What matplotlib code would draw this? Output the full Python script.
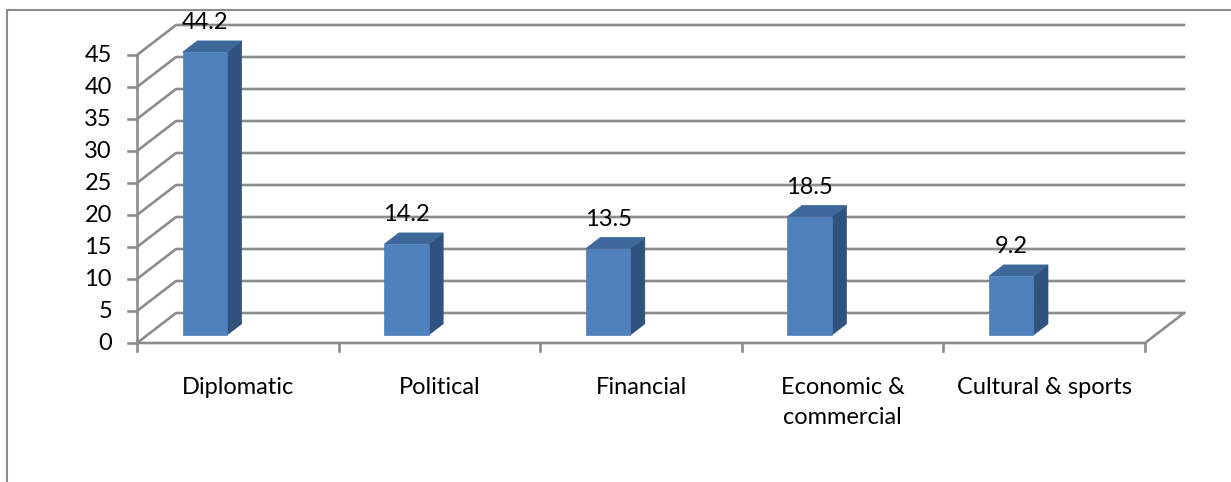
import matplotlib
matplotlib.use('Agg')
import matplotlib.pyplot as plt
from matplotlib.patches import Polygon
from matplotlib.lines import Line2D

categories = ['Diplomatic', 'Political', 'Financial', 'Economic &\ncommercial', 'Cultural & sports']
values = [44.2, 14.2, 13.5, 18.5, 9.2]
value_labels = ['44.2', '14.2', '13.5', '18.5', '9.2']
yticks = [0, 5, 10, 15, 20, 25, 30, 35, 40, 45]

plt.rcParams['font.family'] = ['Lato', 'DejaVu Sans']

W, H = 1231, 482
fig = plt.figure(figsize=(W / 100, H / 100), dpi=100)
fig.patch.set_facecolor('white')

# front plane of the plot box in pixels
x0, x1, y0, y1 = 137, 1145, 343, 55
ax = fig.add_axes([x0 / W, 1 - y0 / H, (x1 - x0) / W, (y0 - y1) / H])
ax.set_xlim(0, len(categories))
ax.set_ylim(0, 45)
ax.axis('off')

# depth offset (front -> back) in data units
px_x = (x1 - x0) / len(categories)
px_y = (y0 - y1) / 45
DX = 39 / px_x
DY = 30 / px_y


def proj(x, y, d):
    return (x + d * DX, y + d * DY)


grid_c = '#8c8c8c'
lw = 1.9
fs = 17
n = len(categories)

# walls and gridlines
for v in yticks:
    a, b = proj(0, v, 0), proj(0, v, 1)
    c = proj(n, v, 1)
    ax.plot([a[0], b[0], c[0]], [a[1], b[1], c[1]], color=grid_c, lw=lw,
            clip_on=False, zorder=1, solid_joinstyle='miter')
    ax.plot([-9 / px_x, 0], [v, v], color=grid_c, lw=lw, clip_on=False, zorder=1)
    ax.annotate(str(v), (0, v), xytext=(-25, 0), textcoords='offset pixels',
                ha='right', va='center', fontsize=fs, annotation_clip=False)

# front axis, floor edges
ax.plot([0, 0], [0, 45], color=grid_c, lw=lw, clip_on=False, zorder=1)
fr = proj(n, 0, 1)
ax.plot([0, n, fr[0]], [0, 0, fr[1]], color=grid_c, lw=lw, clip_on=False, zorder=1)
for i in range(n + 1):
    ax.plot([i, i], [0, -8 / px_y], color=grid_c, lw=lw, clip_on=False, zorder=1)

# category labels
for i, cat in enumerate(categories):
    ax.annotate(cat, (i + 0.5, 0), xytext=(0, -34), textcoords='offset pixels',
                ha='center', va='top', fontsize=fs, linespacing=1.55,
                annotation_clip=False)

# 3d bars
front_c, top_c, side_c = '#4f81bd', '#3d6899', '#30527f'
d0, d1 = 0.267, 0.64
bw = 0.22
for i, v in enumerate(values):
    xl, xr = i + 0.175, i + 0.175 + bw
    front = [proj(xl, 0, d0), proj(xr, 0, d0), proj(xr, v, d0), proj(xl, v, d0)]
    top = [proj(xl, v, d0), proj(xr, v, d0), proj(xr, v, d1), proj(xl, v, d1)]
    side = [proj(xr, 0, d0), proj(xr, 0, d1), proj(xr, v, d1), proj(xr, v, d0)]
    for pts, col in [(side, side_c), (top, top_c), (front, front_c)]:
        ax.add_patch(Polygon(pts, closed=True, facecolor=col, edgecolor=col,
                             lw=0.5, clip_on=False, zorder=3))
    lx = proj((xl + xr) / 2, v, d0)[0]
    ly = proj(xl, v, d1)[1]
    ax.annotate(value_labels[i], (lx, ly), xytext=(0, 18), textcoords='offset pixels',
                ha='center', va='center', fontsize=fs, annotation_clip=False, zorder=4)

# chart border (top and left only visible)
fig.add_artist(Line2D([7 / W, 1], [1 - 10 / H, 1 - 10 / H], color=grid_c, lw=1.5,
                      transform=fig.transFigure))
fig.add_artist(Line2D([7 / W, 7 / W], [0, 1 - 10 / H], color=grid_c, lw=1.5,
                      transform=fig.transFigure))

fig.savefig('out.png', dpi=100)
